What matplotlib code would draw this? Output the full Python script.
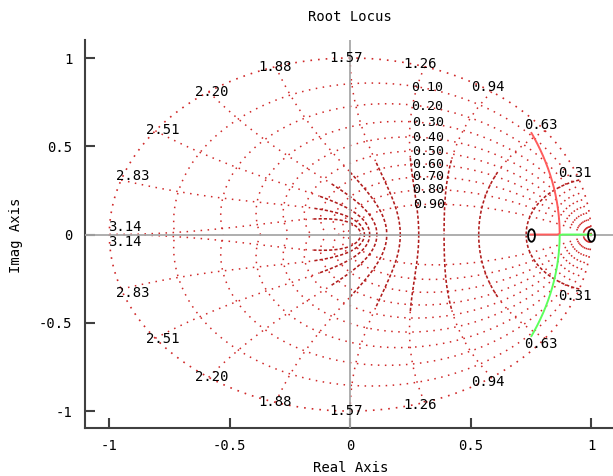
import numpy as np
import matplotlib
matplotlib.use("Agg")
import matplotlib.pyplot as plt
from matplotlib.path import Path

plt.rcParams['axes.unicode_minus'] = False
FONT = ['DejaVu Sans Mono']

# ---- data ----
poles = [0.75, 1.0]
zeros = [-0.6]
gain_max = 0.245
damping = [0.1, 0.2, 0.3, 0.4, 0.5, 0.6, 0.7, 0.8, 0.9]
natfreq_steps = [1, 2, 3, 4, 5, 6, 7, 8, 9, 10]   # wn = k*pi/10
xticks = [-1, -0.5, 0, 0.5, 1]
xticklabels = ['-1', '-0.5', '0', '0.5', '1']
yticks = [-1, -0.5, 0, 0.5, 1]
yticklabels = ['-1', '-0.5', '0', '0.5', '1']

W, H = 613, 476
fig = plt.figure(figsize=(W / 100, H / 100), dpi=100)
ax = fig.add_axes([85 / W, 48 / H, 528 / W, 388 / H])
ax.set_xlim(-1.101, 1.091)
ax.set_ylim(-1.096, 1.102)

gcol = '#d02828'
dcol = '#b01c1c'
dotted = (0, (1, 3.6))
dashy = (0, (2, 1.3))
FS = 10

# unit circle
th = np.linspace(0, 2 * np.pi, 721)
ax.plot(np.cos(th), np.sin(th), color=gcol, lw=1.2, ls=dotted)

# constant damping spirals
for z in damping:
    a = z / np.sqrt(1 - z ** 2)
    t = np.linspace(0, np.pi, 400)
    r = np.exp(-a * t)
    for s in (1, -1):
        ax.plot(r * np.cos(t), s * r * np.sin(t), color=gcol, lw=1.1, ls=dotted)
    xr = r * np.cos(t)
    i = np.argmax(xr <= 0.31)
    ax.annotate('%.2f' % z, xy=(xr[i], r[i] * np.sin(t[i])), xytext=(-12, 0),
                textcoords='offset pixels', ha='left', va='center',
                fontsize=9.5, family=FONT, color='black', zorder=6)

# constant natural-frequency curves
for k in natfreq_steps:
    wn = k * np.pi / 10
    zz = np.linspace(0, 1, 300)
    r = np.exp(-zz * wn)
    ph = wn * np.sqrt(1 - zz ** 2)
    thr = 0.0 if k == 1 else 0.55
    lo = zz <= thr + 1e-9
    hi = zz >= thr - 1e-9
    for s in (1, -1):
        if lo.sum() > 1:
            ax.plot(r[lo] * np.cos(ph[lo]), s * r[lo] * np.sin(ph[lo]),
                    color=gcol, lw=1.1, ls=dotted)
        ax.plot(r[hi] * np.cos(ph[hi]), s * r[hi] * np.sin(ph[hi]),
                color=dcol, lw=1.15, ls=dashy)
    c = np.cos(wn)
    if wn <= np.pi / 2 + 1e-9:
        dx = -21
        dy = 7.5 * max(0.0, c)
    else:
        dx = -1.5 - 19.5 * (np.pi - wn) / (np.pi / 2)
        dy = 7.5 * max(0.0, -c) ** 12
    for s in (1, -1):
        ax.annotate('%.2f' % wn, xy=(np.cos(wn), s * np.sin(wn)),
                    xytext=(dx, s * dy), textcoords='offset pixels',
                    ha='left', va='center', fontsize=FS, family=FONT,
                    color='black', zorder=6)

# origin axes
ax.axhline(0, color='#a8a8a8', lw=1.3, zorder=3)
ax.axvline(0, color='#a8a8a8', lw=1.3, zorder=3)

# root locus
den = np.poly(poles)
num = np.poly(zeros)
gains = np.linspace(0, gain_max, 3000)
b1, b2 = [], []
for K in gains:
    p = np.polyadd(den, K * np.concatenate([[0] * (len(den) - len(num)), num]))
    rts = np.roots(p)
    if np.all(np.abs(rts.imag) < 1e-9):
        rr = np.sort(rts.real)
        b1.append(complex(rr[0], 0))
        b2.append(complex(rr[1], 0))
    else:
        re = rts[0].real
        im = abs(rts[0].imag)
        b1.append(complex(re, im))
        b2.append(complex(re, -im))
b1 = np.array(b1)
b2 = np.array(b2)
ax.plot(b1.real, b1.imag, color='#ff5c5c', lw=1.4, zorder=4)
ax.plot(b2.real, b2.imag, color='#5cff5c', lw=1.4, zorder=4)

# pole markers (tall "0" shape)
circ = Path.unit_circle()
ell = Path(circ.vertices * np.array([0.55, 1.0]), circ.codes)
ax.plot(poles, [0] * len(poles), ls='none', marker=ell, markersize=9,
        markerfacecolor='none', markeredgecolor='black', markeredgewidth=1.3,
        zorder=5)

# axes styling
for side in ('top', 'right'):
    ax.spines[side].set_visible(False)
for side in ('left', 'bottom'):
    ax.spines[side].set_color('#404040')
    ax.spines[side].set_linewidth(1.5)
ax.set_xticks(xticks)
ax.set_xticklabels(xticklabels)
ax.set_yticks(yticks)
ax.set_yticklabels(yticklabels)
ax.tick_params(direction='in', length=7, width=1.5, color='#404040',
               labelsize=FS, labelcolor='black')
ax.tick_params(axis='x', pad=8)
ax.tick_params(axis='y', pad=9)
for lab in ax.get_xticklabels() + ax.get_yticklabels():
    lab.set_family(FONT)
ax.set_facecolor('white')

fig.text(350 / W, 1 - 17 / H, 'Root Locus', ha='center', va='center',
         fontsize=FS, family=FONT)
fig.text(351 / W, 1 - 468 / H, 'Real Axis', ha='center', va='center',
         fontsize=FS, family=FONT)
fig.text(16 / W, 1 - 235 / H, 'Imag Axis', ha='center', va='center',
         rotation=90, fontsize=FS, family=FONT)

fig.savefig('out.png', dpi=100)
